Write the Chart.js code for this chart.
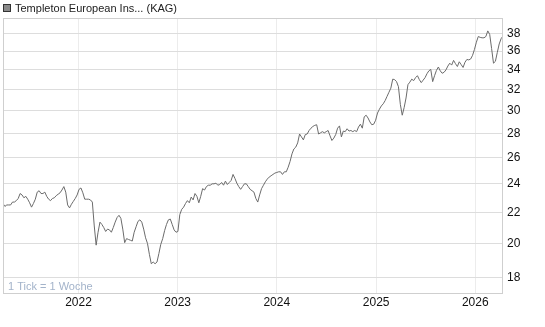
<!DOCTYPE html>
<html>
<head>
<meta charset="utf-8">
<script src="https://cdn.jsdelivr.net/npm/chart.js@4.4.1/dist/chart.umd.min.js"></script>
<style>
  html, body { margin: 0; padding: 0; background: #fff; }
</style>
</head>
<body>
<canvas id="chart" width="545" height="327"></canvas>
<script>
const seriesName = 'Templeton European Ins... (KAG)';
const footNote = '1 Tick = 1 Woche';
const firstWeek = '2021-03-29';
const yearLabels = ['2022', '2023', '2024', '2025', '2026'];
const yTicks = [18, 20, 22, 24, 26, 28, 30, 32, 34, 36, 38];

// weekly closing values
const prices2021 = [
  22.6, 22.4, 22.5, 22.5, 22.5, 22.7, 22.7, 22.8, 22.95, 23.3,
  23.2, 23.0, 23.1, 22.9, 22.65, 22.35, 22.6, 22.9, 23.4, 23.5,
  23.3, 23.3, 23.4, 23.1, 22.9, 22.8, 22.95, 23.0, 23.15, 23.25,
  23.35, 23.55, 23.8, 23.4, 22.5, 22.3, 22.55, 22.75, 22.95, 23.2
];
const prices2022 = [
  23.6, 23.7, 23.35, 22.9, 22.9, 22.9, 22.85, 22.7, 21.1, 19.9,
  20.7, 21.35, 21.2, 21.0, 20.75, 20.9, 20.85, 20.7, 21.0, 21.35,
  21.65, 21.8, 21.6, 20.9, 20.05, 20.3, 20.25, 20.2, 20.15, 20.7,
  21.05, 21.4, 21.5, 21.35, 20.9, 20.35, 20.0, 19.35, 18.8, 18.9,
  18.8, 18.9, 19.4, 19.95, 20.3, 20.8, 21.2, 21.5, 21.55, 21.2,
  20.85, 20.7, 20.75
];
const prices2023 = [
  21.85, 22.2, 22.35, 22.6, 22.8, 22.65, 23.05, 22.85, 23.3, 23.1,
  22.65, 23.1, 23.65, 23.55, 23.8, 23.9, 23.9, 24.0, 24.0, 24.05,
  23.9, 23.95, 24.1, 23.9, 24.2, 23.95, 24.1, 24.25, 24.7, 24.4,
  24.05, 23.8, 23.6, 23.8, 24.0, 24.0, 23.8, 23.6, 23.5, 23.4,
  22.95, 22.7, 23.2, 23.65, 23.9, 24.15, 24.35, 24.5, 24.6, 24.7,
  24.8, 24.85, 24.9
];
const prices2024 = [
  24.9, 24.7, 24.9, 24.9, 25.25, 25.7, 26.3, 26.7, 26.85, 27.2,
  27.95, 27.7, 27.45, 27.9, 27.95, 28.25, 28.45, 28.6, 28.7, 28.75,
  27.95, 28.05, 28.15, 28.05, 28.15, 28.25, 27.8, 27.4, 27.6, 27.9,
  28.45, 28.65, 27.7, 28.2, 28.15, 28.4, 28.2, 28.25, 28.15, 28.25,
  28.15, 28.55, 28.8, 28.45, 29.45, 29.6, 29.35, 29.0, 28.75, 28.8,
  29.15
];
const prices2025 = [
  29.8, 30.15, 30.45, 30.65, 30.95, 31.35, 31.75, 32.15, 33.05, 33.0,
  32.8, 32.3, 30.6, 29.6, 30.3, 31.2, 32.5, 32.75, 33.05, 32.9,
  33.2, 33.4, 33.0, 32.7, 32.95, 33.2, 33.6, 33.9, 34.05, 32.8,
  33.4, 33.95, 34.3, 33.9, 33.65, 33.75, 34.0, 34.4, 34.7, 34.5,
  35.0, 34.65, 34.35, 34.85, 34.55, 34.25, 34.8, 35.1, 35.05, 35.15,
  35.55, 36.2
];
const prices2026 = [
  37.0, 37.65, 37.55, 37.5, 37.5, 37.65, 38.3, 37.9, 36.3, 34.7,
  34.9, 35.85, 36.8, 37.4, 37.7
];

const prices = [...prices2021, ...prices2022, ...prices2023, ...prices2024, ...prices2025, ...prices2026];

const weekIndex = d => (Date.parse(d) - Date.parse(firstWeek)) / (7 * 864e5);
const yearTicks = yearLabels.map(y => weekIndex(y + '-01-01'));

const FONT = '"Liberation Sans", Arial, sans-serif';

const decor = {
  id: 'decor',
  afterDraw(chart) {
    const { ctx, chartArea: a } = chart;
    ctx.save();
    ctx.strokeStyle = '#cfcfcf';
    ctx.lineWidth = 1;
    ctx.strokeRect(a.left + 0.5, a.top + 0.5, a.right - a.left - 1, a.bottom - a.top - 1);

    ctx.fillStyle = '#8a8a8a';
    ctx.fillRect(3, 4, 8, 8);
    ctx.strokeStyle = '#333';
    ctx.strokeRect(3.5, 4.5, 7, 7);

    ctx.font = '11px ' + FONT;
    ctx.textBaseline = 'middle';
    ctx.textAlign = 'left';
    ctx.fillStyle = '#222';
    ctx.fillText(seriesName, 15, 8.5);

    ctx.fillStyle = '#a3b3ca';
    ctx.fillText(footNote, a.left + 5, a.bottom - 7);
    ctx.restore();
  }
};

new Chart(document.getElementById('chart'), {
  type: 'line',
  data: {
    datasets: [{
      data: prices.map((v, i) => ({ x: i, y: v })),
      borderColor: '#6b6b6b',
      borderWidth: 1,
      pointRadius: 0,
      tension: 0,
      fill: false,
    }],
  },
  options: {
    responsive: false,
    animation: false,
    layout: { padding: { left: 3, top: 18, right: 0, bottom: 0 } },
    plugins: { legend: { display: false }, tooltip: { enabled: false } },
    scales: {
      x: {
        type: 'linear',
        min: 0,
        max: prices.length - 1,
        afterBuildTicks: s => { s.ticks = yearTicks.map(v => ({ value: v })); },
        afterFit: s => { s.height = 33; },
        ticks: {
          callback: (v, i) => yearLabels[i],
          color: '#111',
          font: { family: FONT, size: 12 },
          padding: 1,
          maxRotation: 0,
        },
        grid: { color: '#ececec', drawTicks: false },
        border: { display: false },
      },
      y: {
        type: 'logarithmic',
        position: 'right',
        min: 17.14,
        max: 39.84,
        afterBuildTicks: s => { s.ticks = yTicks.map(v => ({ value: v })); },
        afterFit: s => { s.width = 42; },
        ticks: {
          callback: v => String(v),
          color: '#111',
          font: { family: FONT, size: 12 },
          padding: 4,
        },
        grid: { color: '#dddddd', drawTicks: false },
        border: { display: false },
      },
    },
  },
  plugins: [decor],
});
</script>
</body>
</html>
